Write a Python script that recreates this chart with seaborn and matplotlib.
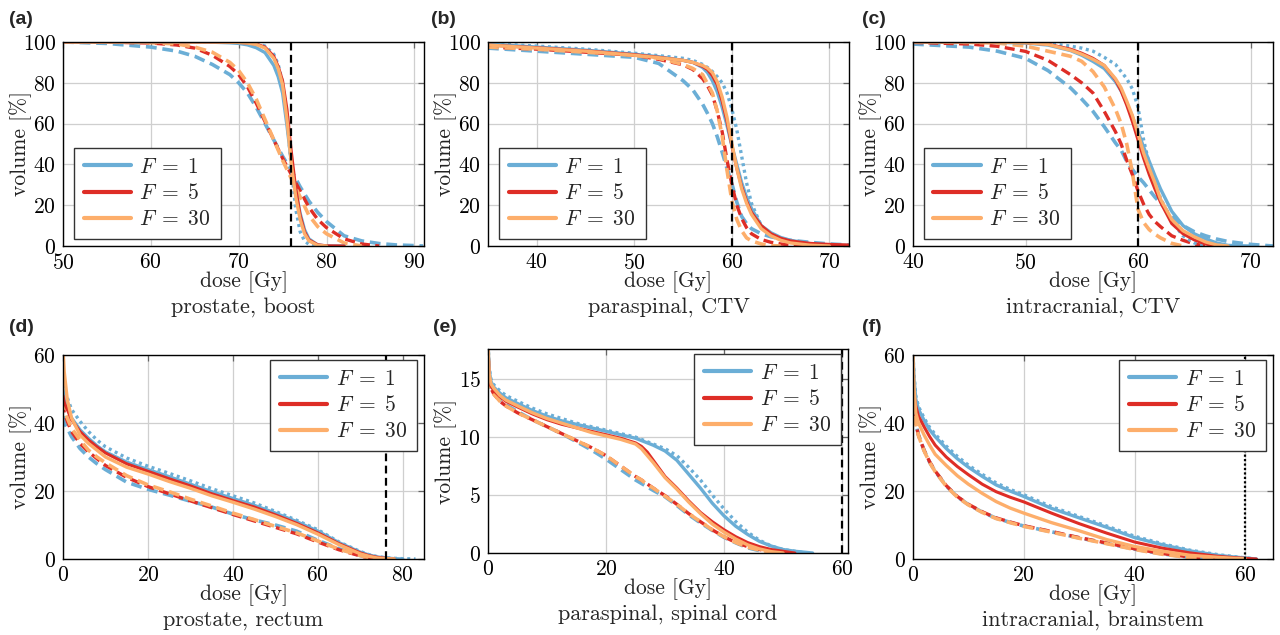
import numpy as np
import matplotlib
matplotlib.use("Agg")
import matplotlib.pyplot as plt
import seaborn as sns
from matplotlib.lines import Line2D

nan = float("nan")

# ---------------- data ----------------
LABELS = [r"$F\;=\;1$", r"$F\;=\;5$", r"$F\;=\;30$"]
TITLES = ["prostate, boost", "paraspinal, CTV", "intracranial, CTV",
          "prostate, rectum", "paraspinal, spinal cord", "intracranial, brainstem"]
LETTERS = ["(a)", "(b)", "(c)", "(d)", "(e)", "(f)"]
PRESCRIPTION = [76, 60, 60, 76, 60, 60]

# (a) prostate, boost
A_DOSE = [50, 55, 60, 63, 65, 67, 69, 70, 71, 72, 73, 74, 74.5, 75, 75.5, 76, 76.5, 77, 77.5, 78, 79, 80, 82, 84, 86, 88, 90, 91]
A_F1_SOLID = [100, 100, 100, 100, 100, 99.9, 99.6, 99.3, 98.6, 97.2, 94.8, 88.5, 83, 75, 59, 41, 27, 16, 8, 3.5, 0.5, 0, 0, nan, nan, nan, nan, nan]
A_F1_DOT = [100, 100, 100, 100, 100, 100, 99.95, 99.9, 99.7, 99.3, 98, 94, 89, 80, 63, 38, 18, 7, 2.5, 0.8, 0.1, 0, nan, nan, nan, nan, nan, nan]
A_F1_DASH = [100, 99.3, 97.5, 95.5, 93, 89, 84, 80, 75, 68, 60, 52, 48, 44, 40.5, 37, 33, 29, 25.5, 22, 16.5, 12, 5, 2.5, 1.2, 0.5, 0.2, 0]
A_F5_SOLID = [100, 100, 100, 100, 100, 100, 99.9, 99.8, 99.5, 99, 97.5, 93, 88, 81, 67, 46, 28, 15, 7, 3, 0.6, 0.1, 0, nan, nan, nan, nan, nan]
A_F5_DASH = [100, 99.9, 99.5, 98.5, 97, 93.5, 88, 84, 78, 70, 61, 52, 47.5, 43, 39, 35, 31, 27, 23, 19, 13, 9, 3.5, 1, 0, nan, nan, nan]
A_F30_SOLID = [100, 100, 100, 100, 100, 100, 99.9, 99.8, 99.5, 98.8, 97, 92, 87, 79, 62, 40, 24, 13, 6, 2.5, 0.3, 0, nan, nan, nan, nan, nan, nan]
A_F30_DASH = [100, 100, 99.7, 99, 97.5, 95, 90, 86, 80, 72, 62, 52, 47, 42, 37.5, 33, 28.5, 24, 19.5, 15, 9.5, 6, 1.5, 0, nan, nan, nan, nan]

# (b) paraspinal, CTV
B_DOSE = [35, 40, 45, 50, 52.5, 55, 56, 57, 57.5, 58, 58.5, 59, 59.5, 60, 60.5, 61, 61.5, 62, 63, 64, 65, 66, 68, 70, 72]
B_F1_SOLID = [99, 97.5, 96, 94, 92.8, 91, 90, 87.5, 85, 81, 75.5, 68, 59, 49, 40, 31, 24, 18.5, 10, 6.5, 4.2, 2.8, 1.2, 0.5, 0.2]
B_F1_DOT = [99.3, 98, 96.5, 94.5, 93.3, 92, 91, 89, 87.5, 85.5, 83, 80, 75, 67, 57, 44, 31, 21, 10, 5.5, 3.5, 2.5, 1.2, 0.5, 0.2]
B_F1_DASH = [97, 95.5, 94, 92.5, 89.5, 81, 76.5, 69.5, 65, 60, 53.5, 46, 38, 30.5, 21.5, 14.5, 11, 8.5, 6, 4.5, 3.6, 2.8, 1.8, 1, 0.5]
B_F5_SOLID = [98.5, 97.2, 95.7, 93.8, 92.5, 91, 90, 88, 86.5, 83.5, 79, 71, 61, 49, 38, 29, 22, 16.5, 10, 6, 3.8, 2.5, 1.3, 0.8, 0.5]
B_F5_DASH = [97.5, 96.5, 95, 93.5, 91.5, 88.8, 86.5, 82, 78.5, 74, 66, 56, 42, 30, 20, 13.5, 9, 6, 3.2, 1.8, 1, 0.5, 0, nan, nan]
B_F30_SOLID = [98.5, 97, 95.5, 93.5, 92.3, 91, 90, 88.5, 87.2, 85, 80.5, 73, 63, 50, 38, 28, 21, 15.5, 8.5, 5, 2.8, 1.5, 0.4, 0, nan]
B_F30_DASH = [97.5, 96.5, 95, 93.5, 92, 89, 87, 84, 79.5, 75, 66, 54, 37, 22, 13, 7.5, 4, 2.5, 1, 0.2, 0, nan, nan, nan, nan]

# (c) intracranial, CTV
C_DOSE = [40, 45, 47.5, 50, 52, 54, 55, 56, 57, 58, 58.5, 59, 59.5, 60, 60.5, 61, 61.5, 62, 63, 64, 65, 66, 67, 68, 70, 72]
C_F1_SOLID = [100, 100, 99.8, 99.5, 98.5, 95.8, 93.5, 90.5, 87, 80.5, 76, 70, 63.5, 56, 48.5, 41.5, 34.5, 28, 17, 10, 6, 3.5, 1.5, 0.3, 0, nan]
C_F1_DOT = [100, 100, 100, 99.8, 99.3, 98, 97, 95.5, 92.5, 89, 85.5, 82, 77, 68, 52, 40, 31, 23.5, 12, 5, 1.5, 0.3, 0, nan, nan, nan]
C_F1_DASH = [99, 97.5, 95.5, 92, 86, 77.5, 72, 66, 58.5, 50.5, 47, 41.5, 37.5, 34, 31, 27.5, 24, 21, 14.5, 10, 7, 5, 3.4, 2.2, 0.8, 0]
C_F5_SOLID = [100, 100, 99.9, 99.7, 98.9, 96.5, 94.5, 92, 88.5, 81.5, 76, 69, 61, 52, 43, 35, 28, 21.5, 11, 6, 3, 1, 0, nan, nan, nan]
C_F5_DASH = [99.8, 99, 97.9, 95.4, 91, 84, 80, 75, 66, 56, 50, 42, 35, 27, 20.5, 15.4, 12, 9.5, 5, 2.8, 1, 0, nan, nan, nan, nan]
C_F30_SOLID = [100, 100, 99.9, 99.7, 98.8, 96, 94, 91.5, 88.5, 82, 77.5, 71, 64, 55, 45.5, 38, 31, 23, 13, 7.5, 4.5, 2, 0.5, 0, nan, nan]
C_F30_DASH = [100, 99.8, 99.5, 98, 95.5, 93, 90.5, 85.5, 78, 67, 60, 50, 36, 18, 11.5, 8, 5.8, 4, 1.3, 0, nan, nan, nan, nan, nan, nan]

# (d) prostate, rectum
D_DOSE = [0, 0.3, 1, 2, 4, 6, 8, 10, 15, 20, 25, 30, 35, 40, 45, 50, 55, 60, 65, 70, 72, 74, 76, 78, 80, 83]
D_F1_SOLID = [50, 47, 44.5, 41.5, 38, 35.5, 33.3, 31.5, 28.5, 26.3, 24.2, 22, 19.8, 17.8, 15.8, 13.5, 11, 8.2, 4.8, 2, 1.2, 0.6, 0.3, 0.1, 0, nan]
D_F1_DOT = [55, 50, 47.5, 44, 40.5, 37.5, 35, 33, 29.7, 27.3, 25.2, 23, 20.7, 18.6, 16.5, 14, 11.4, 8.6, 5, 2.2, 1.3, 0.7, 0.4, 0.2, 0.1, 0]
D_F1_DASH = [42, 40, 38.5, 36, 32.5, 30, 28, 26.3, 22.6, 20.5, 18.8, 17, 15.3, 13.2, 11.5, 10, 8.2, 5.5, 3, 1, 0.4, 0.1, 0, nan, nan, nan]
D_F5_SOLID = [48, 46, 44, 41, 37.5, 35, 33, 31.2, 28, 25.8, 23.6, 21.5, 19.2, 17.2, 15.3, 13, 10.5, 7.7, 4.5, 1.8, 1, 0.5, 0.2, 0, nan, nan]
D_F5_DASH = [46, 43, 40.5, 37.5, 34, 31.5, 29.5, 27.5, 24, 21.3, 19.2, 17.1, 15.1, 13.1, 11.2, 9.3, 7.4, 5, 2.7, 0.9, 0.3, 0, nan, nan, nan, nan]
D_F30_SOLID = [62, 55, 47, 41.5, 36.5, 34, 32, 30, 27, 25, 22.8, 20.8, 18.6, 16.7, 14.7, 12.5, 10.1, 7.3, 4.2, 1.5, 0.8, 0.3, 0.1, 0, nan, nan]
D_F30_DASH = [47, 44, 41.5, 38.5, 35, 32, 30, 28.3, 24.5, 21.8, 19.8, 17.6, 15.6, 13.5, 11.6, 9.6, 7.7, 5.3, 2.9, 1, 0.4, 0.1, 0, nan, nan, nan]

# (e) paraspinal, spinal cord
E_DOSE = [0, 0.2, 0.5, 1, 2, 3, 5, 7.5, 10, 12.5, 15, 17.5, 20, 22.5, 25, 26, 27, 28, 30, 32, 34, 36, 38, 40, 42, 44, 46, 48, 50, 52, 54, 55]
E_F1_SOLID = [18, 15.8, 14.8, 14.3, 13.8, 13.4, 12.9, 12.3, 11.8, 11.4, 11.1, 10.8, 10.5, 10.2, 9.9, 9.7, 9.5, 9.3, 8.8, 8, 6.8, 5.6, 4.3, 3.2, 2.3, 1.6, 1, 0.6, 0.3, 0.15, 0.05, 0]
E_F1_DOT = [18, 16, 15, 14.5, 14, 13.6, 13.1, 12.5, 12, 11.6, 11.2, 10.9, 10.6, 10.3, 10, 9.8, 9.6, 9.4, 9, 8.4, 7.4, 6.3, 5, 3.8, 2.7, 1.8, 1.1, 0.6, 0.3, 0.15, 0, nan]
E_F1_DASH = [18, 15, 14.3, 13.8, 13.2, 12.8, 12.2, 11.5, 10.9, 10.3, 9.6, 8.9, 8.1, 7.2, 6.3, 6, 5.7, 5.4, 4.85, 4.1, 3.3, 2.6, 1.95, 1.35, 0.87, 0.45, 0.2, 0.05, 0, nan, nan, nan]
E_F5_SOLID = [18, 15.2, 14.4, 14, 13.5, 13.1, 12.6, 12, 11.5, 11.1, 10.8, 10.5, 10.2, 9.9, 9.5, 9.2, 8.7, 8, 6.6, 5.6, 4.5, 3.5, 2.7, 2, 1.4, 0.9, 0.55, 0.3, 0.15, 0, nan, nan]
E_F5_DASH = [18, 15, 14.2, 13.7, 13.1, 12.7, 12.1, 11.5, 10.9, 10.3, 9.7, 9.1, 8.4, 7.5, 6.6, 6.3, 5.95, 5.6, 4.95, 4.2, 3.4, 2.7, 2, 1.4, 0.9, 0.55, 0.3, 0.12, 0.03, 0, nan, nan]
E_F30_SOLID = [18, 15.5, 14.6, 14.2, 13.6, 13.2, 12.7, 12.1, 11.6, 11.2, 10.8, 10.4, 10.1, 9.8, 9.4, 9, 8.4, 7.8, 6.5, 5.5, 4.4, 3.4, 2.5, 1.8, 1.2, 0.7, 0.35, 0.12, 0, nan, nan, nan]
E_F30_DASH = [18, 15, 14.2, 13.7, 13.1, 12.7, 12.1, 11.5, 10.9, 10.3, 9.7, 9.1, 8.4, 7.5, 6.6, 6.3, 5.9, 5.6, 4.9, 4.2, 3.4, 2.7, 2, 1.4, 0.9, 0.5, 0.25, 0.08, 0, nan, nan, nan]

# (f) intracranial, brainstem
F_DOSE = [0, 0.2, 0.5, 1, 2, 3, 4, 6, 8, 10, 12.5, 15, 17.5, 20, 25, 30, 35, 40, 45, 50, 55, 58, 60, 62]
F_F1_SOLID = [60, 53, 47, 44, 40.8, 38, 36, 32.5, 29.5, 27, 24.3, 21.8, 20, 18.4, 14.9, 12.1, 9.3, 6.3, 4.2, 2.4, 1.1, 0.6, 0.3, 0]
F_F1_DOT = [60, 54, 48, 44.8, 41.5, 38.7, 36.7, 33.2, 30.2, 27.6, 24.9, 22.4, 20.5, 18.9, 15.4, 12.5, 9.7, 6.7, 4.5, 2.6, 1.3, 0.7, 0.35, 0]
F_F1_DASH = [48, 44, 40, 36.5, 32, 28.5, 25.8, 21.5, 18.3, 16, 13.8, 12, 10.8, 9.7, 8, 6.2, 4.6, 2.9, 1.5, 0.5, 0, nan, nan, nan]
F_F5_SOLID = [50, 48, 45, 42, 38.9, 36, 33.5, 30, 27.2, 24.8, 22, 19.8, 18.2, 16.8, 13.5, 10.4, 7.6, 5, 3.2, 1.8, 0.8, 0.4, 0.2, 0]
F_F5_DASH = [47, 43.5, 39.8, 36.3, 32, 28.6, 25.9, 21.6, 18.4, 16.1, 13.9, 12.1, 10.9, 9.8, 8.1, 6.3, 4.7, 3, 1.6, 0.6, 0.1, nan, nan, nan]
F_F30_SOLID = [60, 50, 43, 40, 36.5, 33.5, 30.8, 27.5, 24.5, 22, 19.3, 16.9, 15, 13.5, 10.7, 8.3, 5.7, 3.7, 2.3, 1.1, 0.5, 0.2, 0.1, nan]
F_F30_DASH = [47, 43.5, 39.7, 36.2, 31.8, 28.4, 25.7, 21.4, 18.2, 15.9, 13.7, 11.9, 10.7, 9.6, 7.9, 6.1, 4.5, 2.8, 1.4, 0.4, 0, nan, nan, nan]

XLIMS = [(50, 91.1), (35, 72), (40, 72), (0, 85), (0, 61), (0, 65)]
YLIMS = [(0, 100), (0, 100), (0, 100), (0, 60), (0, 17.6), (0, 60)]
XTICKS = [[50, 60, 70, 80, 90], [40, 50, 60, 70], [40, 50, 60, 70], [0, 20, 40, 60, 80], [0, 20, 40, 60], [0, 20, 40, 60]]
YTICKS = [[0, 20, 40, 60, 80, 100]] * 3 + [[0, 20, 40, 60], [0, 5, 10, 15], [0, 20, 40, 60]]

PANELS = [
    (A_DOSE, A_F1_SOLID, A_F1_DOT, A_F1_DASH, A_F5_SOLID, A_F5_DASH, A_F30_SOLID, A_F30_DASH),
    (B_DOSE, B_F1_SOLID, B_F1_DOT, B_F1_DASH, B_F5_SOLID, B_F5_DASH, B_F30_SOLID, B_F30_DASH),
    (C_DOSE, C_F1_SOLID, C_F1_DOT, C_F1_DASH, C_F5_SOLID, C_F5_DASH, C_F30_SOLID, C_F30_DASH),
    (D_DOSE, D_F1_SOLID, D_F1_DOT, D_F1_DASH, D_F5_SOLID, D_F5_DASH, D_F30_SOLID, D_F30_DASH),
    (E_DOSE, E_F1_SOLID, E_F1_DOT, E_F1_DASH, E_F5_SOLID, E_F5_DASH, E_F30_SOLID, E_F30_DASH),
    (F_DOSE, F_F1_SOLID, F_F1_DOT, F_F1_DASH, F_F5_SOLID, F_F5_DASH, F_F30_SOLID, F_F30_DASH),
]

# ---------------- style ----------------
BLUE, RED, ORANGE = "#6baed6", "#de2d26", "#fdae6b"
sns.set_style("white")
plt.rcParams.update({
    "font.family": "serif",
    "font.serif": ["cmr10"],
    "mathtext.fontset": "cm",
    "axes.formatter.use_mathtext": True,
    "axes.unicode_minus": False,
})

fig = plt.figure(figsize=(12.8, 6.35), dpi=100)
W, H = 1280, 635
# axes boxes in pixels: left, top, right, bottom
BOXES = [(63, 42, 424, 246), (488, 42, 849, 246), (913, 42, 1273, 246),
         (63, 355, 424, 559), (488, 349, 848, 553), (913, 355, 1273, 559)]
LETTER_POS = [(9, 20), (431, 20), (862, 20), (9, 328), (433, 328), (862, 328)]

DASH = (0, (3.0, 1.6))
DOT = (0, (0.9, 1.1))


def curve(ax, x, y, color, ls, lw, z):
    sns.lineplot(x=np.asarray(x, float), y=np.asarray(y, float), ax=ax, color=color,
                 linestyle=ls, linewidth=lw, estimator=None, sort=False,
                 legend=False, zorder=z)


for i, (box, panel) in enumerate(zip(BOXES, PANELS)):
    l, t, r, b = box
    ax = fig.add_axes([l / W, 1 - b / H, (r - l) / W, (b - t) / H])
    dose, f1s, f1d, f1da, f5s, f5da, f30s, f30da = panel

    curve(ax, dose, f1da, BLUE, DASH, 2.6, 2)
    curve(ax, dose, f5da, RED, DASH, 2.4, 2.1)
    curve(ax, dose, f30da, ORANGE, DASH, 2.6, 2.2)
    curve(ax, dose, f1d, BLUE, DOT, 2.4, 2.3)
    curve(ax, dose, f1s, BLUE, "-", 2.4, 2.4)
    curve(ax, dose, f5s, RED, "-", 2.2, 2.5)
    curve(ax, dose, f30s, ORANGE, "-", 2.4, 2.6)

    ax.axvline(PRESCRIPTION[i], color="black", lw=1.6,
               linestyle=(0, (1, 1)) if i == 5 else (0, (3.5, 2)), zorder=3)

    ax.set_xlim(*XLIMS[i])
    ax.set_ylim(*YLIMS[i])
    ax.set_xticks(XTICKS[i])
    ax.set_yticks(YTICKS[i])
    ax.grid(True, color="#cfcfcf", lw=0.9, zorder=0)
    ax.set_axisbelow(True)
    ax.tick_params(direction="in", length=4.5, width=0.9, color="#666666",
                   top=True, right=True, labelsize=15.5, pad=5, labelcolor="black")
    for s in ax.spines.values():
        s.set_color("black")
        s.set_linewidth(1.0)
        s.set_zorder(4)

    ax.set_xlabel("dose [Gy]", fontsize=15.5, color="#222222")
    ax.set_ylabel("volume [%]", fontsize=15.5, color="#222222")
    ax.xaxis.set_label_coords(0.5, -0.125)
    ax.yaxis.set_label_coords(-0.087, 0.5)
    ax.text(0.5, -0.30, TITLES[i], transform=ax.transAxes, ha="center", va="center",
            fontsize=16)

    handles = [Line2D([], [], color=c, lw=3.0) for c in (BLUE, RED, ORANGE)]
    common = dict(fontsize=15.5, frameon=True, fancybox=False, framealpha=1,
                  edgecolor="#333333", borderpad=0.45, handlelength=2.2,
                  handletextpad=0.4, labelspacing=0.3, borderaxespad=0)
    if i < 3:
        leg = ax.legend(handles, LABELS, loc="lower left",
                        bbox_to_anchor=(0.030, 0.034), **common)
    else:
        leg = ax.legend(handles, LABELS, loc="upper right",
                        bbox_to_anchor=(0.981, 0.977), **common)
    leg.get_frame().set_linewidth(1.0)
    leg.set_zorder(10)

    lx, ly = LETTER_POS[i]
    fig.text(lx / W, 1 - ly / H, LETTERS[i], ha="left", va="center",
             fontsize=14, fontweight="bold", family="Liberation Sans")

fig.savefig("out.png", dpi=100)
